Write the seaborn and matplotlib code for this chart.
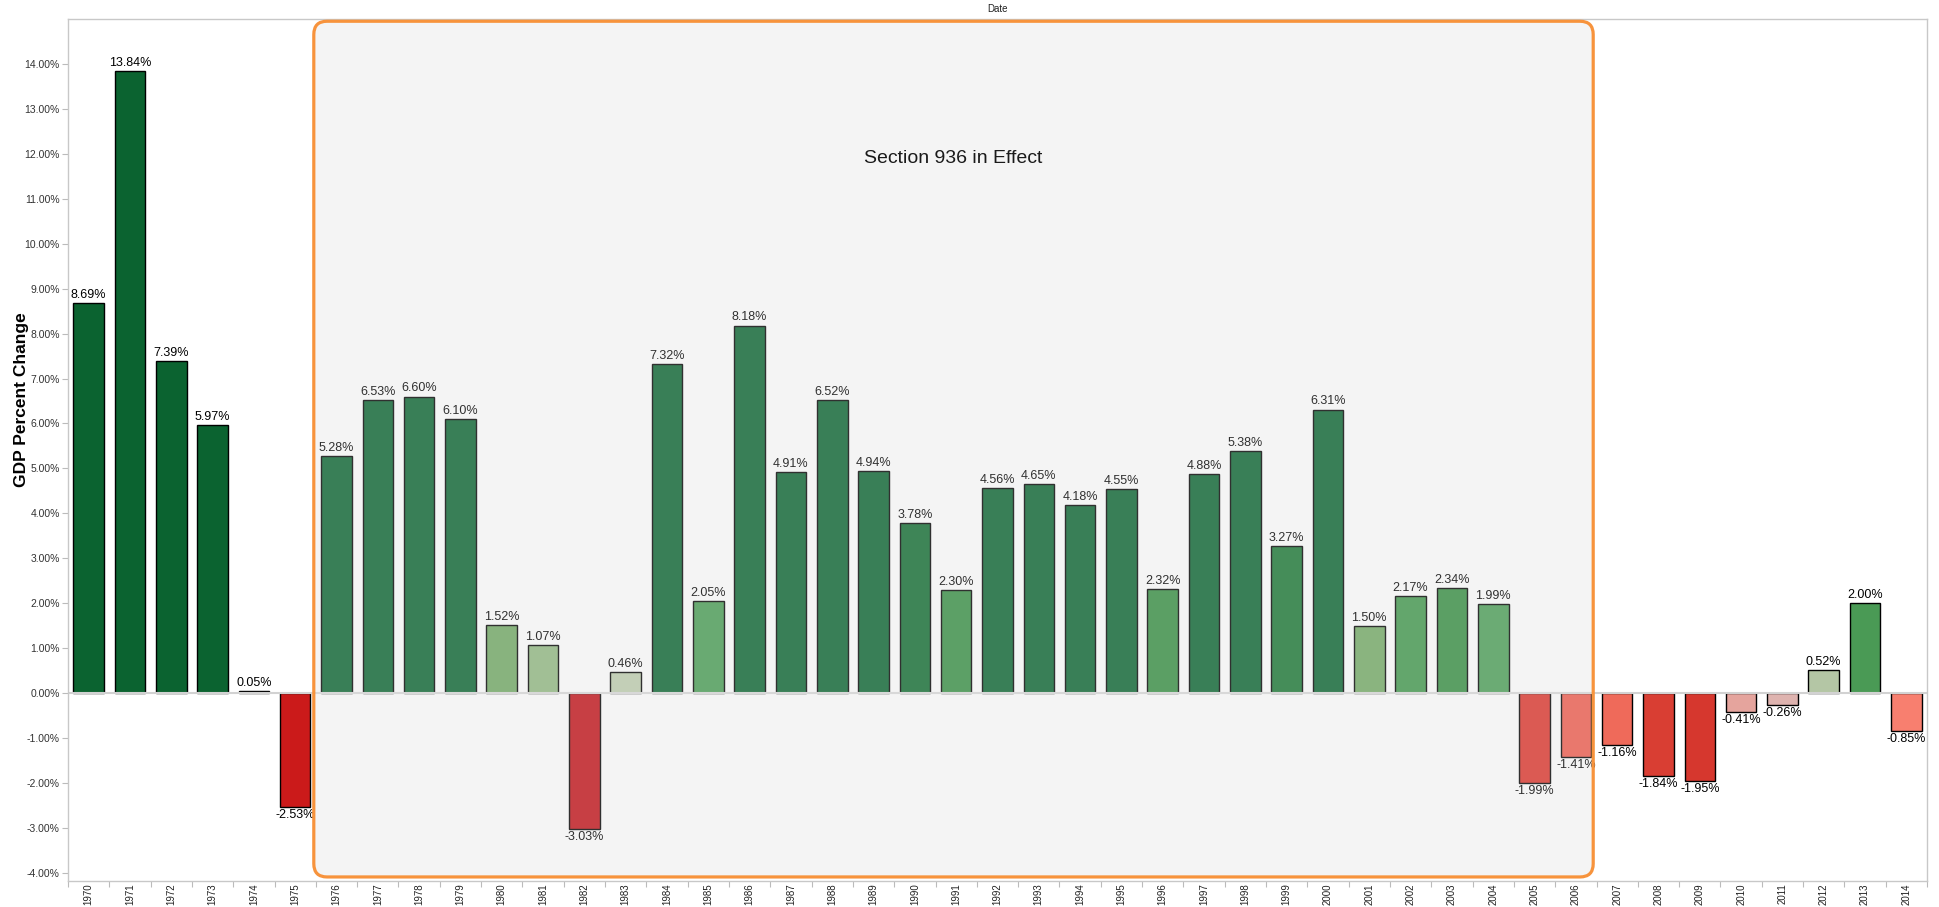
import numpy as np
import pandas as pd
import matplotlib
matplotlib.use("Agg")
import matplotlib.pyplot as plt
import seaborn as sns
from matplotlib.colors import LinearSegmentedColormap, Normalize, to_hex
from matplotlib.patches import FancyBboxPatch
from matplotlib.ticker import FixedLocator

years = ["1970", "1971", "1972", "1973", "1974", "1975", "1976", "1977", "1978", "1979",
         "1980", "1981", "1982", "1983", "1984", "1985", "1986", "1987", "1988", "1989",
         "1990", "1991", "1992", "1993", "1994", "1995", "1996", "1997", "1998", "1999",
         "2000", "2001", "2002", "2003", "2004", "2005", "2006", "2007", "2008", "2009",
         "2010", "2011", "2012", "2013", "2014"]
gdp_change = [8.69, 13.84, 7.39, 5.97, 0.05, -2.53, 5.28, 6.53, 6.60, 6.10,
              1.52, 1.07, -3.03, 0.46, 7.32, 2.05, 8.18, 4.91, 6.52, 4.94,
              3.78, 2.30, 4.56, 4.65, 4.18, 4.55, 2.32, 4.88, 5.38, 3.27,
              6.31, 1.50, 2.17, 2.34, 1.99, -1.99, -1.41, -1.16, -1.84, -1.95,
              -0.41, -0.26, 0.52, 2.00, -0.85]
y_ticks = [-4, -3, -2, -1, 0, 1, 2, 3, 4, 5, 6, 7, 8, 9, 10, 11, 12, 13, 14]
annotation = "Section 936 in Effect"
section_start, section_end = "1976", "2006"

sns.set_theme(style="white")
plt.rcParams["font.family"] = ["Liberation Sans", "DejaVu Sans"]

# diverging red-grey-green colour scale
vmin, vmax = -3.1, 4.2
stops = [(-3.1, "#BB1219"), (-2.53, "#CC1A1A"), (-1.9, "#D73A30"), (-1.16, "#EF6A5A"),
         (-0.85, "#F98070"), (-0.41, "#E5A49D"), (-0.26, "#DEB4B0"), (0.0, "#D0D0CC"),
         (0.52, "#B3C6A4"), (1.5, "#71A562"), (2.0, "#4A9A55"), (2.34, "#358B41"),
         (3.27, "#1A7433"), (4.2, "#0B6330")]
cmap = LinearSegmentedColormap.from_list(
    "rg", [((v - vmin) / (vmax - vmin), c) for v, c in stops])
norm = Normalize(vmin=vmin, vmax=vmax, clip=True)
palette = [to_hex(cmap(norm(v))) for v in gdp_change]

df = pd.DataFrame({"Date": years, "GDP": gdp_change})

W, H = 1940, 907
fig = plt.figure(figsize=(W / 100, H / 100), dpi=100)
ax_l, ax_r, ax_t, ax_b = 68, 1927, 19, 881
ax = fig.add_axes([ax_l / W, 1 - ax_b / H, (ax_r - ax_l) / W, (ax_b - ax_t) / H])

sns.barplot(data=df, x="Date", y="GDP", hue="Date", palette=palette, legend=False,
            width=0.74, edgecolor="black", linewidth=1.0, saturation=1, ax=ax, zorder=2)

ax.set_xlim(-0.5, len(years) - 0.5)
ax.set_ylim(-4.18, 15.0)

# value labels
patches = sorted(ax.patches, key=lambda p: p.get_x())
for p, v in zip(patches, gdp_change):
    xc = p.get_x() + p.get_width() / 2
    if v >= 0:
        ax.annotate(f"{v:.2f}%", (xc, v), xytext=(0, 1.5), textcoords="offset points",
                    ha="center", va="bottom", fontsize=9, color="black", zorder=3)
    else:
        ax.annotate(f"{v:.2f}%", (xc, v), xytext=(0, -1.5), textcoords="offset points",
                    ha="center", va="top", fontsize=9, color="black", zorder=3)

ax.axhline(0, color="#D2D2D2", lw=1.5, zorder=2.5)

# Section 936 box
i0 = years.index(section_start) - 0.55
i1 = years.index(section_end) + 0.42
y0, y1 = -4.09, 14.95
style = "round,pad=0,rounding_size=0.32"
bg = FancyBboxPatch((i0, y0), i1 - i0, y1 - y0, boxstyle=style, mutation_aspect=0.92,
                    facecolor="#F4F4F4", edgecolor="none", zorder=0.5, clip_on=False)
ax.add_patch(bg)
ov = FancyBboxPatch((i0, y0), i1 - i0, y1 - y0, boxstyle=style, mutation_aspect=0.92,
                    facecolor=(0.957, 0.957, 0.957, 0.2), edgecolor="#F7933C", lw=2.3,
                    zorder=5, clip_on=False)
ax.add_patch(ov)
ax.text((i0 + i1) / 2, 11.9, annotation, ha="center", va="center", fontsize=14,
        color="#1A1A1A", zorder=6)

# axes styling
for s in ax.spines.values():
    s.set_color("#C8C8C8")
    s.set_linewidth(1.0)
ax.set_yticks(y_ticks)
ax.set_yticklabels([f"{t:.2f}%" for t in y_ticks])
ax.tick_params(axis="y", labelsize=7.5, labelcolor="#333333", length=4, width=0.8,
               color="#BBBBBB", left=True, pad=2)
ax.tick_params(axis="x", which="major", labelsize=7, labelcolor="#222222", length=0,
               rotation=90, pad=1.5)
ax.xaxis.set_minor_locator(FixedLocator(np.arange(-0.5, len(years), 1.0)))
ax.tick_params(axis="x", which="minor", length=4, width=0.8, color="#BBBBBB", bottom=True)
ax.set_xlabel("")
ax.set_ylabel("GDP Percent Change", fontsize=12.5, fontweight="bold", color="black")
ax.yaxis.set_label_coords(-0.021, 0.559)
ax.text(0.5, 1 + 10 / (ax_b - ax_t), "Date", transform=ax.transAxes, ha="center",
        va="center", fontsize=7, color="#222222")

fig.savefig("out.png", dpi=100)
